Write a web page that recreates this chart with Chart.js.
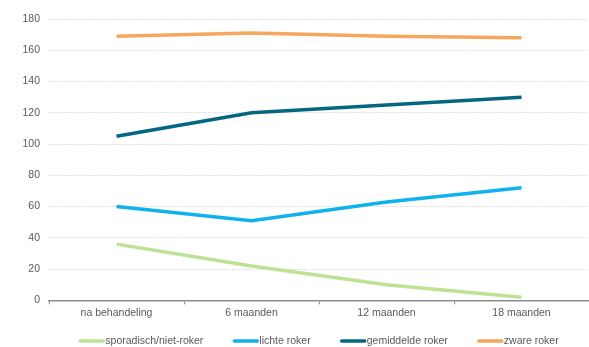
<!DOCTYPE html>
<html>
<head>
<meta charset="utf-8">
<script src="https://cdn.jsdelivr.net/npm/chart.js@4"></script>
<style>
  html, body { margin: 0; padding: 0; background: #fff; overflow: hidden; }
  #wrap { width: 589px; height: 347px; }
</style>
</head>
<body>
<div id="wrap"><canvas id="c" width="589" height="347"></canvas></div>
<script>
// Meetmomenten en gemiddelde waarden per rookgroep
const categories = ['na behandeling', '6 maanden', '12 maanden', '18 maanden'];
const sporadisch = [36, 22, 10, 2];
const lichte = [60, 51, 63, 72];
const gemiddelde = [105, 120, 125, 130];
const zware = [169, 171, 169, 168];
const yTicks = [0, 20, 40, 60, 80, 100, 120, 140, 160, 180];

const textColor = '#595959';
const fontFamily = '"Liberation Sans", Arial, sans-serif';
const fontSize = 10.5;

function series(label, data, color) {
  return {
    label, data,
    borderColor: color,
    backgroundColor: color,
    borderWidth: 3.5,
    pointRadius: 0,
    pointHoverRadius: 0,
    tension: 0,
    fill: false
  };
}

// Legenda onder de grafiek: korte lijn met het label er direct achter,
// gecentreerd onder het plotgebied.
const bottomLegend = {
  id: 'bottomLegend',
  afterDraw(chart) {
    const ctx = chart.ctx;
    const sample = 25, textGap = 1, itemGap = 30;
    ctx.save();
    ctx.font = fontSize + 'px ' + fontFamily;
    const items = chart.data.datasets.map(ds => ({
      label: ds.label,
      color: ds.borderColor,
      w: sample + textGap + ctx.measureText(ds.label).width
    }));
    const total = items.reduce((s, it) => s + it.w, 0) + itemGap * (items.length - 1);
    const area = chart.chartArea;
    let x = (area.left + area.right) / 2 - total / 2;
    const y = chart.height - 6;
    ctx.textBaseline = 'middle';
    ctx.textAlign = 'left';
    items.forEach(it => {
      ctx.strokeStyle = it.color;
      ctx.lineWidth = 3.5;
      ctx.lineCap = 'round';
      ctx.beginPath();
      ctx.moveTo(x + 1, y);
      ctx.lineTo(x + sample - 1, y);
      ctx.stroke();
      ctx.fillStyle = textColor;
      ctx.fillText(it.label, x + sample + textGap, y);
      x += it.w + itemGap;
    });
    ctx.restore();
  }
};

new Chart(document.getElementById('c'), {
  type: 'line',
  data: {
    labels: categories,
    datasets: [
      series('sporadisch/niet-roker', sporadisch, '#bde294'),
      series('lichte roker', lichte, '#0fb2ea'),
      series('gemiddelde roker', gemiddelde, '#03677f'),
      series('zware roker', zware, '#f5a75c')
    ]
  },
  plugins: [bottomLegend],
  options: {
    responsive: false,
    animation: false,
    layout: { padding: { top: 19, right: 0, left: 0, bottom: 26 } },
    plugins: {
      tooltip: { enabled: false },
      legend: { display: false }
    },
    scales: {
      x: {
        offset: true,
        grid: {
          offset: true,
          drawOnChartArea: false,
          drawTicks: true,
          tickLength: 4,
          color: '#8c8c8c'
        },
        border: { display: true, color: '#8c8c8c', width: 1.5 },
        ticks: {
          color: textColor,
          font: { family: fontFamily, size: fontSize },
          padding: 2,
          maxRotation: 0
        }
      },
      y: {
        min: 0,
        max: 180,
        afterBuildTicks: (scale) => { scale.ticks = yTicks.map(v => ({ value: v })); },
        afterFit: (scale) => { scale.width = 49; },
        grid: {
          color: '#d9d9d9',
          drawTicks: false,
          lineWidth: 1
        },
        border: { display: false, dash: [1.5, 1.5] },
        ticks: {
          color: textColor,
          font: { family: fontFamily, size: fontSize },
          padding: 9
        }
      }
    }
  }
});
</script>
</body>
</html>
